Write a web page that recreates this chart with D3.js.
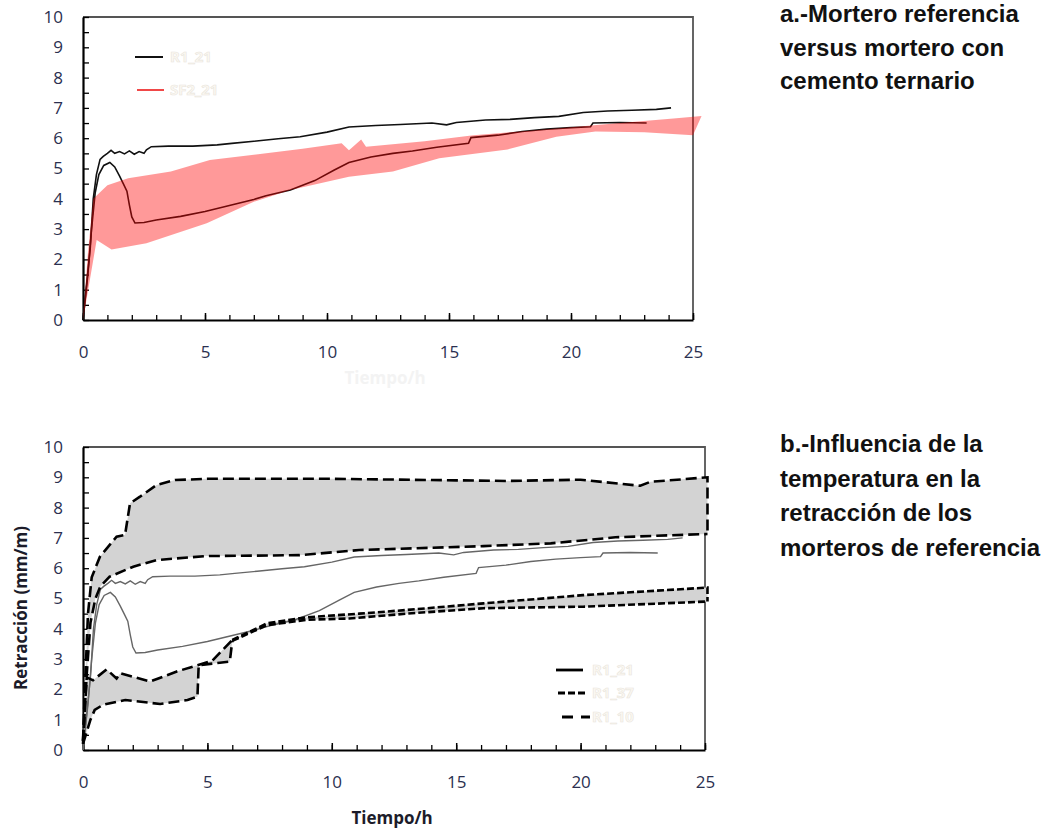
<!DOCTYPE html>
<meta charset="utf-8">
<html>
  <head>
    <style>
      body { margin: 0; background: #fff; }
      text.tick-label { font-family: "Open Sans", sans-serif; font-size: 17px; fill: #2b3050; }
      text.axis-title { font-family: "Open Sans", sans-serif; font-size: 17px; font-weight: bold; fill: #1c1c2a; }
      text.panel-title { font-family: "Liberation Sans", Arial, sans-serif; font-size: 24px; font-weight: bold; fill: #111; }
      text.legend-label { font-family: "Open Sans", sans-serif; font-size: 15px; font-weight: bold; fill: #fcf9f2; stroke: #e9e5dd; stroke-width: 0.6px; }
    </style>
    <script src="https://d3js.org/d3.v7.min.js"></script>
  </head>
  <body>
    <div id="chart"></div>
    <script type="text/javascript">
      // R1_21 curves (time h, shrinkage mm/m)
      var r121Upper = [[0,0],[0.15,1.2],[0.3,2.4],[0.42,4.0],[0.55,4.8],[0.7,5.3],[0.83,5.4],[1.0,5.5],[1.15,5.6],[1.3,5.5],
        [1.5,5.56],[1.7,5.48],[1.9,5.58],[2.1,5.47],[2.3,5.56],[2.5,5.5],[2.6,5.62],[2.8,5.72],[3.5,5.74],[4.5,5.74],
        [5.5,5.78],[6.1,5.83],[7,5.9],[8,5.98],[8.9,6.05],[10,6.2],[10.9,6.37],[12,6.42],[13,6.45],[14.3,6.5],
        [14.9,6.44],[15.3,6.52],[16.5,6.6],[17.5,6.62],[18.5,6.68],[19.5,6.72],[20.5,6.85],[21.5,6.9],[22.5,6.92],[23.5,6.95],[24.1,7.0]];
      var r121Lower = [[0,0],[0.2,1.5],[0.35,3.0],[0.5,4.2],[0.65,4.8],[0.85,5.1],[1.1,5.2],[1.3,5.05],[1.5,4.75],[1.65,4.5],
        [1.8,4.25],[1.9,3.8],[2.0,3.4],[2.13,3.2],[2.5,3.22],[3,3.3],[4,3.42],[5,3.58],[6,3.78],[7,3.98],[7.5,4.1],
        [8.5,4.29],[9.5,4.6],[10.3,4.95],[10.9,5.2],[11.8,5.38],[12.7,5.5],[13.5,5.58],[14.5,5.7],[15.8,5.83],[15.9,6.02],
        [17,6.1],[18,6.22],[19,6.3],[20,6.35],[20.8,6.38],[20.9,6.5],[22,6.52],[23.1,6.5]];

      // SF2_21 band
      var sf221Top = [[0,0],[0.2,2.2],[0.42,4.0],[1.0,4.45],[1.85,4.68],[3.6,4.9],[5.2,5.28],[7,5.45],[9,5.65],[10.6,5.83],
        [10.9,5.6],[11.4,5.96],[11.6,5.72],[14,5.9],[16,6.1],[19.4,6.32],[22,6.5],[24.2,6.65],[25.35,6.73]];
      var sf221Bottom = [[0,0],[0.56,2.64],[1.17,2.33],[2.6,2.53],[5.07,3.19],[7,3.9],[8.5,4.29],[10.9,4.73],[12.7,4.9],
        [14.6,5.34],[17.4,5.63],[19.4,6.05],[21,6.22],[23,6.2],[25,6.1]];

      // temperature bands (panel b)
      var hiOuter = [[0,0.3],[0.1,2.5],[0.2,4.5],[0.35,5.7],[0.68,6.38],[1.35,7.04],[1.69,7.1],[1.89,8.14],[2.29,8.36],
        [2.96,8.75],[3.7,8.91],[5,8.95],[10,8.95],[15,8.9],[17,8.88],[20,8.92],[22.4,8.72],[22.8,8.85],[25.1,9.0],[25.1,7.13]];
      var hiInner = [[0,0.3],[0.15,2.5],[0.3,4.2],[0.5,5.0],[0.7,5.4],[1.07,5.72],[2.02,6.05],[2.96,6.27],[4.97,6.4],
        [8.7,6.43],[11.1,6.6],[16.1,6.73],[18.8,6.82],[21.4,7.02],[25.1,7.13]];
      var loOuter = [[0,0.2],[0.15,2.4],[0.4,2.3],[0.95,2.66],[1.35,2.36],[1.5,2.53],[2.7,2.26],[3.77,2.59],[4.6,2.8],
        [5.2,2.95],[6.0,3.63],[7.4,4.18],[9,4.38],[11.1,4.5],[13,4.62],[16.1,4.84],[20.1,5.11],[25.1,5.36],[25.1,4.9]];
      var loInner = [[0,0.2],[0.3,1.0],[0.47,1.32],[0.8,1.49],[1.7,1.65],[3.1,1.52],[4.2,1.65],[4.6,1.76],[4.65,2.8],
        [5.5,2.88],[5.9,2.92],[6.0,3.6],[7.4,4.12],[9,4.3],[10.7,4.34],[13,4.5],[16.1,4.68],[20.1,4.73],[25.1,4.9]];

      var xTicks = [0, 5, 10, 15, 20, 25];
      var yTicks = [0, 1, 2, 3, 4, 5, 6, 7, 8, 9, 10];
      var titleA = ["a.-Mortero referencia", "versus mortero con", "cemento ternario"];
      var titleB = ["b.-Influencia de la", "temperatura en la", "retracción de los", "morteros de referencia"];

      var svg = d3.select("#chart").append("svg")
          .attr("width", 1042)
          .attr("height", 828);

      function panel(left, right, top, bottom) {
        var x = d3.scaleLinear().domain([0, 25]).range([left, right]);
        var y = d3.scaleLinear().domain([0, 10]).range([bottom, top]);
        var g = svg.append("g");

        // top / right frame
        g.append("path")
          .attr("d", "M" + left + "," + top + "H" + right + "V" + bottom)
          .attr("fill", "none").attr("stroke", "#555").attr("stroke-width", 1.8);

        var minorX = d3.range(0, 26);
        var minorY = d3.range(0, 10.01, 0.5);

        g.append("g").attr("transform", "translate(0," + bottom + ")")
          .call(d3.axisBottom(x).tickValues(minorX).tickSize(-5).tickSizeOuter(0).tickFormat(""))
          .call(function(a) { a.select(".domain").attr("stroke-width", 2.2); a.selectAll(".tick line").attr("stroke-width", 1.3); });
        g.append("g").attr("transform", "translate(0," + bottom + ")")
          .call(d3.axisBottom(x).tickValues(xTicks).tickSize(-7).tickSizeOuter(0).tickPadding(26))
          .call(function(a) {
            a.select(".domain").remove();
            a.selectAll(".tick line").attr("stroke-width", 1.5);
            a.selectAll(".tick text").attr("class", "tick-label").attr("fill", null);
          })
          .attr("font-size", null).attr("font-family", null);

        g.append("g").attr("transform", "translate(" + left + ",0)")
          .call(d3.axisLeft(y).tickValues(minorY).tickSize(-6).tickSizeOuter(0).tickFormat(""))
          .call(function(a) { a.select(".domain").attr("stroke-width", 2.2); a.selectAll(".tick line").attr("stroke-width", 1.3); });
        g.append("g").attr("transform", "translate(" + left + ",0)")
          .call(d3.axisLeft(y).tickValues(yTicks).tickSize(0).tickSizeOuter(0).tickPadding(20))
          .call(function(a) {
            a.select(".domain").remove();
            a.selectAll(".tick text").attr("class", "tick-label").attr("fill", null);
          })
          .attr("font-size", null).attr("font-family", null);

        var line = d3.line().x(function(d) { return x(d[0]); }).y(function(d) { return y(d[1]); });
        return { x: x, y: y, g: g, line: line };
      }

      // ---------- panel a ----------
      var pa = panel(83, 693, 17, 320);
      [r121Upper, r121Lower].forEach(function(s) {
        pa.g.append("path").attr("d", pa.line(s))
          .attr("fill", "none").attr("stroke", "#111").attr("stroke-width", 1.6);
      });
      pa.g.append("path")
        .attr("d", pa.line(sf221Top.concat(sf221Bottom.slice().reverse())) + "Z")
        .attr("fill", "rgb(255,0,0)").attr("fill-opacity", 0.4).attr("stroke", "none");

      pa.g.append("line").attr("x1", 135).attr("x2", 163).attr("y1", 57).attr("y2", 57)
        .attr("stroke", "#111").attr("stroke-width", 2);
      pa.g.append("line").attr("x1", 137).attr("x2", 164).attr("y1", 90).attr("y2", 90)
        .attr("stroke", "#f04848").attr("stroke-width", 2);
      pa.g.append("text").attr("class", "legend-label").attr("x", 170).attr("y", 62).text("R1_21");
      pa.g.append("text").attr("class", "legend-label").attr("x", 170).attr("y", 95).text("SF2_21");
      pa.g.append("text").attr("class", "axis-title").attr("x", 385).attr("y", 384)
        .attr("text-anchor", "middle").style("fill", "#f3f3f3").text("Tiempo/h");

      // ---------- panel b ----------
      var pb = panel(83, 705, 447, 750);
      pb.g.append("path")
        .attr("d", pb.line(hiOuter.concat(hiInner.slice().reverse())) + "Z")
        .attr("fill", "#d3d3d3");
      pb.g.append("path")
        .attr("d", pb.line(loOuter.concat(loInner.slice().reverse())) + "Z")
        .attr("fill", "#d3d3d3");

      [r121Upper, r121Lower].forEach(function(s) {
        pb.g.append("path").attr("d", pb.line(s))
          .attr("fill", "none").attr("stroke", "#666").attr("stroke-width", 1.4);
      });

      function dashed(s, dash) {
        pb.g.append("path").attr("d", pb.line(s))
          .attr("fill", "none").attr("stroke", "#000").attr("stroke-width", 2.6)
          .attr("stroke-dasharray", dash);
      }
      var longDash = "11,5", shortDash = "7,3";
      dashed(hiOuter, longDash);
      dashed(hiInner, longDash);
      [loOuter, loInner].forEach(function(s) {
        dashed(s.filter(function(d) { return d[0] <= 6; }), longDash);
        dashed(s.filter(function(d) { return d[0] >= 6; }), shortDash);
      });

      var legB = [["R1_21", null, 556, 583, 670], ["R1_37", "7,3", 558, 586, 693], ["R1_10", "11,8", 562, 590, 717]];
      legB.forEach(function(l) {
        pb.g.append("line").attr("x1", l[2]).attr("x2", l[3]).attr("y1", l[4]).attr("y2", l[4])
          .attr("stroke", "#000").attr("stroke-width", 2.8).attr("stroke-dasharray", l[1]);
        pb.g.append("text").attr("class", "legend-label").attr("x", 592).attr("y", l[4] + 5).text(l[0]);
      });

      svg.append("text").attr("class", "axis-title")
        .attr("transform", "translate(27,608) rotate(-90)")
        .attr("text-anchor", "middle").text("Retracción (mm/m)");
      svg.append("text").attr("class", "axis-title")
        .attr("x", 392).attr("y", 824).attr("text-anchor", "middle").text("Tiempo/h");

      svg.selectAll(".titleA").data(titleA).enter().append("text")
        .attr("class", "panel-title").attr("x", 780).attr("y", function(d, i) { return 22 + i * 33.5; })
        .text(function(d) { return d; });
      svg.selectAll(".titleB").data(titleB).enter().append("text")
        .attr("class", "panel-title").attr("x", 780).attr("y", function(d, i) { return 452 + i * 34.5; })
        .text(function(d) { return d; });
    </script>
  </body>
</html>
